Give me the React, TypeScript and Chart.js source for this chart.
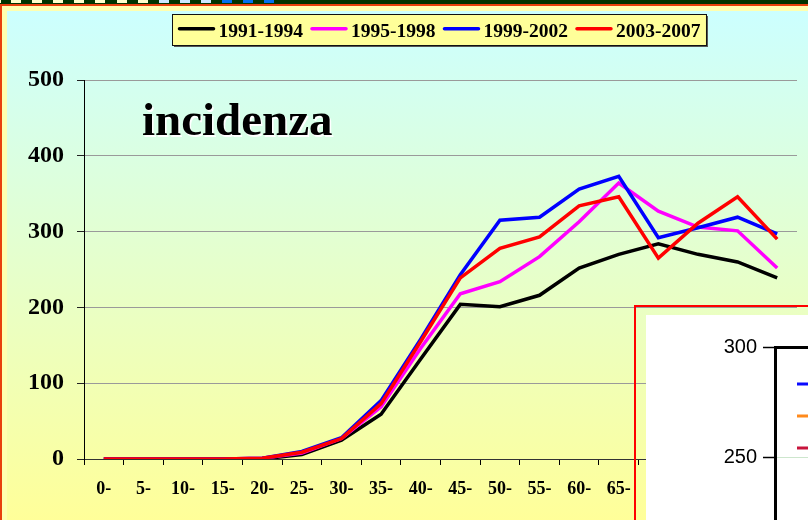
import React, { useEffect, useRef } from "react";
import { Chart, registerables } from "chart.js";

Chart.register(...registerables);

// ---- Data ----
const categories = ["0-", "5-", "10-", "15-", "20-", "25-", "30-", "35-", "40-", "45-", "50-", "55-", "60-", "65-", "70-", "75-", "80-", "85+"];
const seriesLabels = ["1991-1994", "1995-1998", "1999-2002", "2003-2007"];
const series1991 = [0, 0, 0, 0, 0, 6, 25, 59, 132, 204, 201, 216, 252, 270, 284, 270, 260, 239];
const series1995 = [0, 0, 0, 0, 1, 8, 27, 69, 146, 218, 234, 267, 313, 364, 327, 306, 301, 252];
const series1999 = [0, 0, 0, 0, 1, 10, 28, 77, 158, 243, 315, 319, 356, 373, 292, 305, 319, 297];
const series2003 = [0, 0, 0, 0, 1, 9, 27, 73, 155, 239, 278, 293, 334, 346, 265, 311, 346, 290];
const seriesColors = ["#000000", "#FF00FF", "#0000FF", "#FF0000"];
const seriesOrder = [3, 2, 1, 0];
const yTicks = { min: 0, max: 500, step: 100 };
const chartTitle = "incidenza";

// inset (partially visible second chart)
const insetTicks = { min: 150, max: 300, step: 50 };
const insetColors = ["#0A0AFF", "#FF8A1C", "#C8143C"];

const SERIF = '"Liberation Serif", "Times New Roman", serif';
const SANS = '"Liberation Sans", Arial, sans-serif';

const mainDecor = {
  id: "mainDecor",
  afterDraw(chart: any) {
    const ctx = chart.ctx;
    ctx.save();
    // title
    ctx.font = `bold 47px ${SERIF}`;
    ctx.textBaseline = "alphabetic";
    ctx.textAlign = "left";
    ctx.fillStyle = "#FFFFFF";
    ctx.fillText(chartTitle, 136.5, 125.5);
    ctx.fillStyle = "#000000";
    ctx.fillText(chartTitle, 135, 124);

    // legend box
    ctx.font = `bold 19.5px ${SERIF}`;
    const lineLen = 36, gapText = 4, gapItem = 8, padX = 6;
    const ds = chart.data.datasets;
    const widths = ds.map((d: any) => ctx.measureText(d.label).width);
    const total = widths.reduce((a: number, w: number) => a + lineLen + gapText + w, 0) + gapItem * (ds.length - 1) + padX * 2;
    const cx = 431.5;
    const left = Math.round(cx - total / 2) + 0.5;
    const top = 3.5;
    const h = 31;
    ctx.fillStyle = "#555";
    ctx.fillRect(left + 1.5, top + 1.5, total, h);
    ctx.fillStyle = "#FFFF99";
    ctx.fillRect(left, top, total, h);
    ctx.strokeStyle = "#111";
    ctx.lineWidth = 1;
    ctx.strokeRect(left, top, total, h);
    let x = left + padX;
    ds.forEach((d: any, i: number) => {
      ctx.strokeStyle = d.borderColor;
      ctx.lineWidth = 3.5;
      ctx.lineCap = "round";
      ctx.beginPath();
      ctx.moveTo(x + 1, 17.7);
      ctx.lineTo(x + lineLen - 1, 17.7);
      ctx.stroke();
      x += lineLen + gapText;
      ctx.fillStyle = "#000";
      ctx.textBaseline = "middle";
      ctx.fillText(d.label, x, 20.5);
      x += widths[i] + gapItem;
    });
    ctx.restore();
  },
};

const insetDecor = {
  id: "insetDecor",
  afterDraw(chart: any) {
    const ctx = chart.ctx;
    const area = chart.chartArea;
    ctx.save();
    chart.data.datasets.forEach((d: any, i: number) => {
      ctx.strokeStyle = d.borderColor;
      ctx.lineWidth = 3;
      ctx.beginPath();
      ctx.moveTo(area.left + 22, area.top + 37 + i * 32);
      ctx.lineTo(area.left + 60, area.top + 37 + i * 32);
      ctx.stroke();
    });
    ctx.restore();
  },
};

export default function App() {
  const mainRef = useRef<HTMLCanvasElement>(null);
  const insetRef = useRef<HTMLCanvasElement>(null);

  useEffect(() => {
    const seriesData = [series1991, series1995, series1999, series2003];
    const main = new Chart(mainRef.current!, {
      type: "line",
      data: {
        labels: categories,
        datasets: seriesLabels.map((label, i) => ({
          label,
          data: seriesData[i],
          borderColor: seriesColors[i],
          backgroundColor: seriesColors[i],
          borderWidth: 3.5,
          pointRadius: 0,
          tension: 0,
          fill: false,
          order: seriesOrder[i],
        })),
      },
      options: {
        animation: false,
        responsive: false,
        layout: { padding: { top: 69, right: 11, bottom: 0, left: 0 } },
        plugins: { legend: { display: false }, tooltip: { enabled: false } },
        scales: {
          x: {
            type: "category",
            offset: true,
            afterFit: (s: any) => { s.height = 61; },
            grid: { offset: true, drawOnChartArea: false, drawTicks: true, tickLength: 6, tickColor: "#000" },
            border: { color: "#333", width: 1 },
            ticks: {
              autoSkip: false,
              maxRotation: 0,
              padding: 14,
              color: "#000",
              font: { family: SERIF, size: 18, weight: "bold" },
            },
          },
          y: {
            min: yTicks.min,
            max: yTicks.max,
            afterFit: (s: any) => { s.width = 77; },
            grid: { color: "#9A9A9A", lineWidth: 1, tickLength: 7, tickColor: "#222" },
            border: { color: "#000", width: 1 },
            ticks: {
              stepSize: yTicks.step,
              padding: 13,
              color: "#000",
              font: { family: SERIF, size: 24, weight: "bold" },
            },
          },
        },
      },
      plugins: [mainDecor],
    } as any);

    const inset = new Chart(insetRef.current!, {
      type: "line",
      data: {
        labels: [],
        datasets: insetColors.map((c, i) => ({
          label: `s${i + 1}`,
          data: [],
          borderColor: c,
          backgroundColor: c,
          borderWidth: 3,
          pointRadius: 0,
        })),
      },
      options: {
        animation: false,
        responsive: false,
        layout: { padding: { top: 32, right: 20, bottom: 38, left: 0 } },
        plugins: { legend: { display: false }, tooltip: { enabled: false } },
        scales: {
          x: { display: false },
          y: {
            min: insetTicks.min,
            max: insetTicks.max,
            afterFit: (s: any) => { s.width = 129; },
            grid: {
              color: (c: any) => (c.tick && c.tick.value === insetTicks.max ? "#000" : "#CDE6CD"),
              lineWidth: (c: any) => (c.tick && c.tick.value === insetTicks.max ? 3 : 1),
              tickLength: 12,
              tickColor: "#000",
              tickWidth: 1.5,
            },
            border: { color: "#000", width: 3 },
            ticks: {
              stepSize: insetTicks.step,
              padding: 6,
              color: "#000",
              font: { family: SANS, size: 20 },
            },
          },
        },
      },
      plugins: [insetDecor],
    } as any);

    return () => {
      main.destroy();
      inset.destroy();
    };
  }, []);

  const squares = Array.from({ length: 13 }, (_, i) => i);

  return (
    <div style={{ position: "fixed", left: 0, top: 0, width: 808, height: 520, overflow: "hidden", background: "#FFFFB0" }}>
      <div style={{ position: "absolute", left: 0, top: 0, width: 808, height: 4, background: "#003300" }} />
      <div style={{ position: "absolute", left: 0, top: 0, width: 1, height: 3, background: "#FFFFCC" }} />
      {squares.map((i) => (
        <div
          key={i}
          style={{
            position: "absolute",
            left: Math.round(11 + i * 21.1),
            top: 0,
            width: 10,
            height: 3,
            background: i < 7 ? "#FFFFCC" : i < 10 ? "#CCE6FF" : "#0070F0",
          }}
        />
      ))}
      <div style={{ position: "absolute", left: 0, top: 4, width: 808, height: 2, background: "#E8400C" }} />
      <div style={{ position: "absolute", left: 0, top: 4, width: 2, height: 516, background: "#E8400C" }} />
      <div
        style={{
          position: "absolute",
          left: 7,
          top: 11,
          width: 801,
          height: 509,
          background: "linear-gradient(to bottom, #CCFFFF 0%, #FFFF99 100%)",
        }}
      >
        <canvas ref={mainRef} width={801} height={509} style={{ display: "block" }} />
      </div>
      <div
        style={{
          position: "absolute",
          left: 634,
          top: 305,
          width: 300,
          height: 300,
          border: "2px solid #FF0000",
        }}
      />
      <div style={{ position: "absolute", left: 646, top: 315, width: 162, height: 205, overflow: "hidden", background: "#FFFFFF" }}>
        <canvas ref={insetRef} width={420} height={400} style={{ display: "block" }} />
      </div>
    </div>
  );
}
